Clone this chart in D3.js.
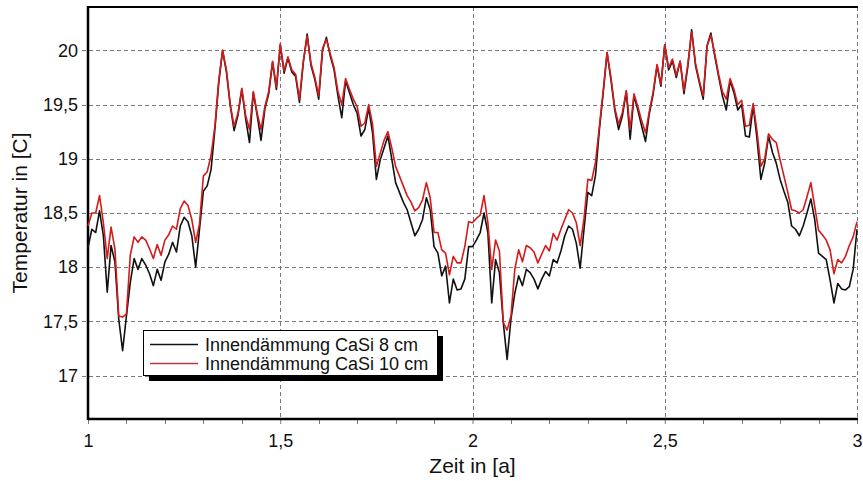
<!DOCTYPE html>
<html>
<head>
<meta charset="utf-8">
<script src="https://cdn.jsdelivr.net/npm/d3@7"></script>
<style>
  html, body { margin: 0; padding: 0; background: #fff; }
  svg { display: block; }
  text { font-family: "Liberation Sans", Arial, sans-serif; fill: #111; }
</style>
</head>
<body>
<svg id="chart" width="863" height="481"></svg>
<script>
// Simulated room temperature over two years, sampled every 0.01 a
const startYear = 1;
const sampleStep = 0.01;

const seriesNames = ["Innendämmung CaSi 8 cm", "Innendämmung CaSi 10 cm"];
const seriesColors = ["#111111", "#d41a1a"];

// Innendämmung CaSi 8 cm, year 1 (t = 1.00 … 1.99)
const casi8Year1 = [
  18.18, 18.35, 18.32, 18.52, 18.29, 17.77, 18.20, 18.05, 17.52, 17.23,
  17.55, 17.86, 18.08, 17.98, 18.08, 18.02, 17.94, 17.83, 17.98, 17.88,
  18.05, 18.12, 18.23, 18.14, 18.38, 18.46, 18.42, 18.29, 18.00, 18.35,
  18.70, 18.75, 18.90, 19.27, 19.70, 20.00, 19.80, 19.49, 19.26, 19.40,
  19.64, 19.37, 19.15, 19.61, 19.40, 19.17, 19.46, 19.60, 19.89, 19.64,
  20.05, 19.79, 19.93, 19.80, 19.76, 19.52, 19.89, 20.15, 19.86, 19.73,
  19.55, 20.00, 20.12, 19.95, 19.82, 19.58, 19.38, 19.72, 19.61, 19.50,
  19.42, 19.21, 19.27, 19.47, 19.24, 18.81, 18.99, 19.10, 19.21, 19.00,
  18.78, 18.69, 18.60, 18.53, 18.41, 18.29, 18.35, 18.44, 18.64, 18.53,
  18.19, 18.13, 17.92, 18.01, 17.67, 17.89, 17.79, 17.80, 17.89, 18.19
];
// Innendämmung CaSi 8 cm, year 2 (t = 2.00 … 3.00)
const casi8Year2 = [
  18.19, 18.25, 18.32, 18.50, 18.32, 17.67, 18.07, 17.95, 17.49, 17.15,
  17.52, 17.76, 17.92, 17.83, 17.98, 17.95, 17.89, 17.80, 17.89, 17.96,
  17.92, 18.07, 18.04, 18.15, 18.29, 18.38, 18.35, 18.22, 17.99, 18.35,
  18.69, 18.66, 18.85, 19.27, 19.61, 19.98, 19.73, 19.45, 19.27, 19.40,
  19.62, 19.18, 19.58, 19.45, 19.30, 19.16, 19.42, 19.60, 19.86, 19.67,
  20.05, 19.82, 19.90, 19.75, 19.90, 19.60, 19.85, 20.19, 19.86, 19.70,
  19.55, 20.04, 20.16, 19.95, 19.76, 19.58, 19.45, 19.72, 19.61, 19.45,
  19.50, 19.21, 19.20, 19.49, 19.18, 18.81, 18.96, 19.21, 19.06, 18.96,
  18.81, 18.70, 18.60, 18.38, 18.35, 18.29, 18.38, 18.50, 18.63, 18.44,
  18.13, 18.10, 18.07, 17.88, 17.67, 17.85, 17.80, 17.79, 17.82, 17.98,
  18.35
];

// Innendämmung CaSi 10 cm, year 1 (t = 1.00 … 1.99)
const casi10Year1 = [
  18.38, 18.50, 18.50, 18.66, 18.41, 18.08, 18.37, 18.17, 17.55, 17.54,
  17.57, 18.11, 18.28, 18.23, 18.28, 18.25, 18.17, 18.08, 18.21, 18.11,
  18.25, 18.30, 18.38, 18.35, 18.54, 18.61, 18.57, 18.44, 18.23, 18.40,
  18.84, 18.88, 19.03, 19.30, 19.72, 20.00, 19.82, 19.50, 19.30, 19.42,
  19.65, 19.40, 19.27, 19.62, 19.42, 19.27, 19.48, 19.62, 19.90, 19.66,
  20.06, 19.81, 19.94, 19.82, 19.78, 19.55, 19.90, 20.13, 19.88, 19.75,
  19.58, 20.02, 20.10, 19.97, 19.84, 19.62, 19.50, 19.74, 19.64, 19.55,
  19.48, 19.30, 19.33, 19.50, 19.32, 18.93, 19.05, 19.17, 19.25, 19.10,
  18.93, 18.84, 18.75, 18.66, 18.60, 18.52, 18.55, 18.62, 18.78, 18.64,
  18.32, 18.32, 18.16, 18.13, 17.93, 18.10, 18.04, 18.04, 18.19, 18.42
];
// Innendämmung CaSi 10 cm, year 2 (t = 2.00 … 3.00)
const casi10Year2 = [
  18.41, 18.45, 18.48, 18.66, 18.41, 17.98, 18.25, 18.15, 17.49, 17.42,
  17.55, 17.98, 18.16, 18.05, 18.20, 18.18, 18.14, 18.04, 18.12, 18.20,
  18.15, 18.31, 18.25, 18.35, 18.44, 18.53, 18.50, 18.41, 18.20, 18.45,
  18.81, 18.80, 18.97, 19.30, 19.63, 19.98, 19.75, 19.47, 19.32, 19.43,
  19.63, 19.27, 19.60, 19.48, 19.35, 19.24, 19.44, 19.62, 19.87, 19.69,
  20.05, 19.84, 19.92, 19.77, 19.90, 19.63, 19.87, 20.17, 19.88, 19.72,
  19.58, 20.04, 20.14, 19.97, 19.78, 19.62, 19.55, 19.74, 19.64, 19.50,
  19.54, 19.30, 19.31, 19.51, 19.25, 18.93, 19.00, 19.23, 19.18, 19.15,
  18.99, 18.84, 18.69, 18.53, 18.52, 18.50, 18.53, 18.65, 18.78, 18.56,
  18.34, 18.30, 18.25, 18.16, 17.94, 18.07, 18.04, 18.10, 18.20, 18.28,
  18.42
];

const xTickValues = [1, 1.5, 2, 2.5, 3];
const xTickLabels = ["1", "1,5", "2", "2,5", "3"];
const xMinorTicks = [1.1, 1.2, 1.3, 1.4, 1.6, 1.7, 1.8, 1.9, 2.1, 2.2, 2.3, 2.4, 2.6, 2.7, 2.8, 2.9];
const yTickValues = [17, 17.5, 18, 18.5, 19, 19.5, 20];
const yTickLabels = ["17", "17,5", "18", "18,5", "19", "19,5", "20"];

const xTitle = "Zeit in [a]";
const yTitle = "Temperatur in [C]";

// ---- layout ----
const svg = d3.select("#chart");
const plot = { left: 88, right: 857, top: 7, bottom: 419 };

const x = d3.scaleLinear().domain([1, 3]).range([plot.left, plot.right]);
const y = d3.scaleLinear().domain([16.6, 20.4]).range([plot.bottom, plot.top]);

const toPoints = (vals, t0) => vals.map((v, i) => ({ t: t0 + i * sampleStep, v }));
const series = [
  toPoints(casi8Year1, startYear).concat(toPoints(casi8Year2, startYear + 1)),
  toPoints(casi10Year1, startYear).concat(toPoints(casi10Year2, startYear + 1))
];

const gridColor = "#7a7a7a";
const dash = "4,3";

// horizontal grid
svg.append("g").selectAll("line").data(yTickValues).join("line")
  .attr("x1", plot.left - 6).attr("x2", plot.right)
  .attr("y1", d => Math.round(y(d)) + 0.5).attr("y2", d => Math.round(y(d)) + 0.5)
  .attr("stroke", gridColor).attr("stroke-width", 1).attr("stroke-dasharray", dash);

// vertical grid
svg.append("g").selectAll("line").data(xTickValues.slice(1)).join("line")
  .attr("x1", d => Math.round(x(d)) + 0.5).attr("x2", d => Math.round(x(d)) + 0.5)
  .attr("y1", plot.top).attr("y2", plot.bottom)
  .attr("stroke", gridColor).attr("stroke-width", 1).attr("stroke-dasharray", dash);

// x axis with major and minor ticks below the line
const xAxis = d3.axisBottom(x).tickValues(xTickValues)
  .tickFormat((d, i) => xTickLabels[i]).tickSize(5).tickPadding(10);
const gx = svg.append("g").attr("transform", `translate(0,${plot.bottom})`).call(xAxis);
gx.select(".domain").remove();
gx.selectAll(".tick line").attr("stroke", gridColor);
gx.selectAll(".tick text").style("font-size", "18px").style("font-family", "Liberation Sans, Arial, sans-serif").attr("fill", "#111");
svg.append("g").selectAll("line").data(xMinorTicks).join("line")
  .attr("x1", d => Math.round(x(d)) + 0.5).attr("x2", d => Math.round(x(d)) + 0.5)
  .attr("y1", plot.bottom).attr("y2", plot.bottom + 5)
  .attr("stroke", gridColor);

// y axis labels
const yAxis = d3.axisLeft(y).tickValues(yTickValues)
  .tickFormat((d, i) => yTickLabels[i]).tickSize(0).tickPadding(10);
const gy = svg.append("g").attr("transform", `translate(${plot.left},0)`).call(yAxis);
gy.select(".domain").remove();
gy.selectAll(".tick text").style("font-size", "18px").style("font-family", "Liberation Sans, Arial, sans-serif").attr("fill", "#111");

// frame: left, bottom and top edges
svg.append("line").attr("x1", plot.left).attr("x2", plot.left).attr("y1", plot.top - 1).attr("y2", plot.bottom + 1)
  .attr("stroke", "#000").attr("stroke-width", 2.5);
svg.append("line").attr("x1", plot.left).attr("x2", plot.right + 1).attr("y1", plot.bottom).attr("y2", plot.bottom)
  .attr("stroke", "#000").attr("stroke-width", 2.5);
svg.append("line").attr("x1", plot.left).attr("x2", plot.right + 1).attr("y1", plot.top).attr("y2", plot.top)
  .attr("stroke", "#000").attr("stroke-width", 2);

// data lines
const line = d3.line().x(d => x(d.t)).y(d => y(d.v)).curve(d3.curveLinear);
svg.append("g").selectAll("path").data(series).join("path")
  .attr("d", line)
  .attr("fill", "none")
  .attr("stroke", (d, i) => seriesColors[i])
  .attr("stroke-width", 1.6)
  .attr("stroke-linejoin", "round");

// axis titles
svg.append("text").attr("x", (plot.left + plot.right) / 2).attr("y", 473)
  .attr("text-anchor", "middle").style("font-size", "21px").text(xTitle);
svg.append("text").attr("transform", `translate(27,${(plot.top + plot.bottom) / 2}) rotate(-90)`)
  .attr("text-anchor", "middle").style("font-size", "21px").text(yTitle);

// legend with drop shadow
const lg = { x: 143, y: 330, w: 294, h: 45 };
svg.append("rect").attr("x", lg.x + 6).attr("y", lg.y + 6).attr("width", lg.w).attr("height", lg.h).attr("fill", "#000");
svg.append("rect").attr("x", lg.x + 0.5).attr("y", lg.y + 0.5).attr("width", lg.w).attr("height", lg.h)
  .attr("fill", "#fff").attr("stroke", "#000").attr("stroke-width", 1);
const items = svg.append("g").selectAll("g").data(seriesNames).join("g")
  .attr("transform", (d, i) => `translate(${lg.x},${lg.y + 14 + i * 19})`);
items.append("line").attr("x1", 7).attr("x2", 55).attr("y1", 0.5).attr("y2", 0.5)
  .attr("stroke", (d, i) => i === 0 ? "#111" : "#b23a48").attr("stroke-width", 1.3);
items.append("text").attr("x", 62).attr("y", 7).style("font-size", "18px").text(d => d);
</script>
</body>
</html>
